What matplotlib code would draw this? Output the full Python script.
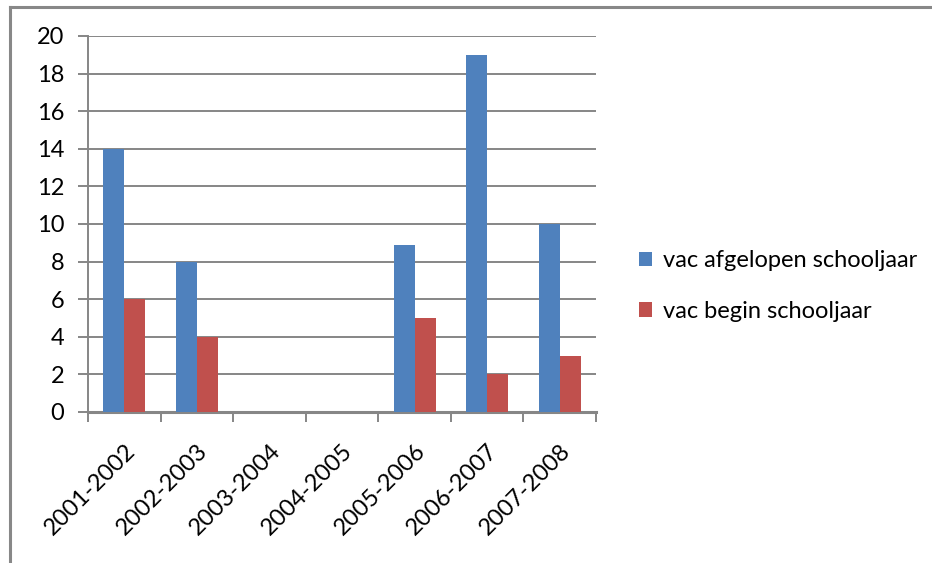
import matplotlib
matplotlib.use('Agg')
import matplotlib.pyplot as plt
from matplotlib.lines import Line2D
from matplotlib.patches import Patch
import numpy as np

categories = ['2001-2002', '2002-2003', '2003-2004', '2004-2005',
              '2005-2006', '2006-2007', '2007-2008']
afgelopen = [14, 8, 0, 0, 8.9, 19, 10]
begin = [6, 4, 0, 0, 5, 2, 3]
series_names = ['vac afgelopen schooljaar', 'vac begin schooljaar']

CLR_BLUE = '#4F81BD'
CLR_RED = '#C0504D'
CLR_GRID = '#868686'

plt.rcParams['font.family'] = ['Lato', 'DejaVu Sans']

fig = plt.figure(figsize=(9.32, 5.63), dpi=100)
ax = fig.add_axes([88 / 932, 1 - 412 / 563, 508 / 932, 376 / 563])

x = np.arange(len(categories))
w = 0.29
ax.bar(x - w / 2, afgelopen, w, color=CLR_BLUE, zorder=3)
ax.bar(x + w / 2, begin, w, color=CLR_RED, zorder=3)

ax.set_xlim(-0.5, len(categories) - 0.5)
ax.set_ylim(0, 20)
ax.set_yticks(range(0, 21, 2))
ax.yaxis.grid(True, color=CLR_GRID, lw=1.4, zorder=0)
ax.set_axisbelow(True)

ax.tick_params(axis='y', length=7.2, width=1.4, color=CLR_GRID,
               labelsize=17, pad=10)
ax.tick_params(axis='x', length=7.2, width=1.4, color=CLR_GRID,
               labelsize=17, pad=2)

ax.set_xticks(np.arange(-0.5, len(categories), 1.0))
ax.set_xticklabels([])
ax.set_xticks(x, minor=True)
ax.set_xticklabels(categories, minor=True, rotation=45, ha='right',
                   rotation_mode='anchor', fontsize=17)
ax.tick_params(axis='x', which='minor', length=0, pad=20)

for s in ['top', 'right']:
    ax.spines[s].set_visible(False)
ax.spines['left'].set_color(CLR_GRID)
ax.spines['left'].set_linewidth(1.4)
ax.spines['bottom'].set_color(CLR_GRID)
ax.spines['bottom'].set_linewidth(2.2)

handles = [Patch(facecolor=CLR_BLUE), Patch(facecolor=CLR_RED)]
fig.legend(handles, series_names, loc='center left',
           bbox_to_anchor=(618 / 932, 1 - 286 / 563), frameon=False,
           fontsize=17, handlelength=0.55, handleheight=0.55,
           handletextpad=0.45, labelspacing=1.25)

# outer frame (left and top edges only)
fig.add_artist(Line2D([9.5 / 932, 9.5 / 932], [0, 1 - 6.5 / 563],
                      transform=fig.transFigure, color='#888888', lw=2.2))
fig.add_artist(Line2D([9.5 / 932, 1], [1 - 6.5 / 563, 1 - 6.5 / 563],
                      transform=fig.transFigure, color='#888888', lw=2.2))

fig.savefig('out.png', dpi=100, facecolor='white')
